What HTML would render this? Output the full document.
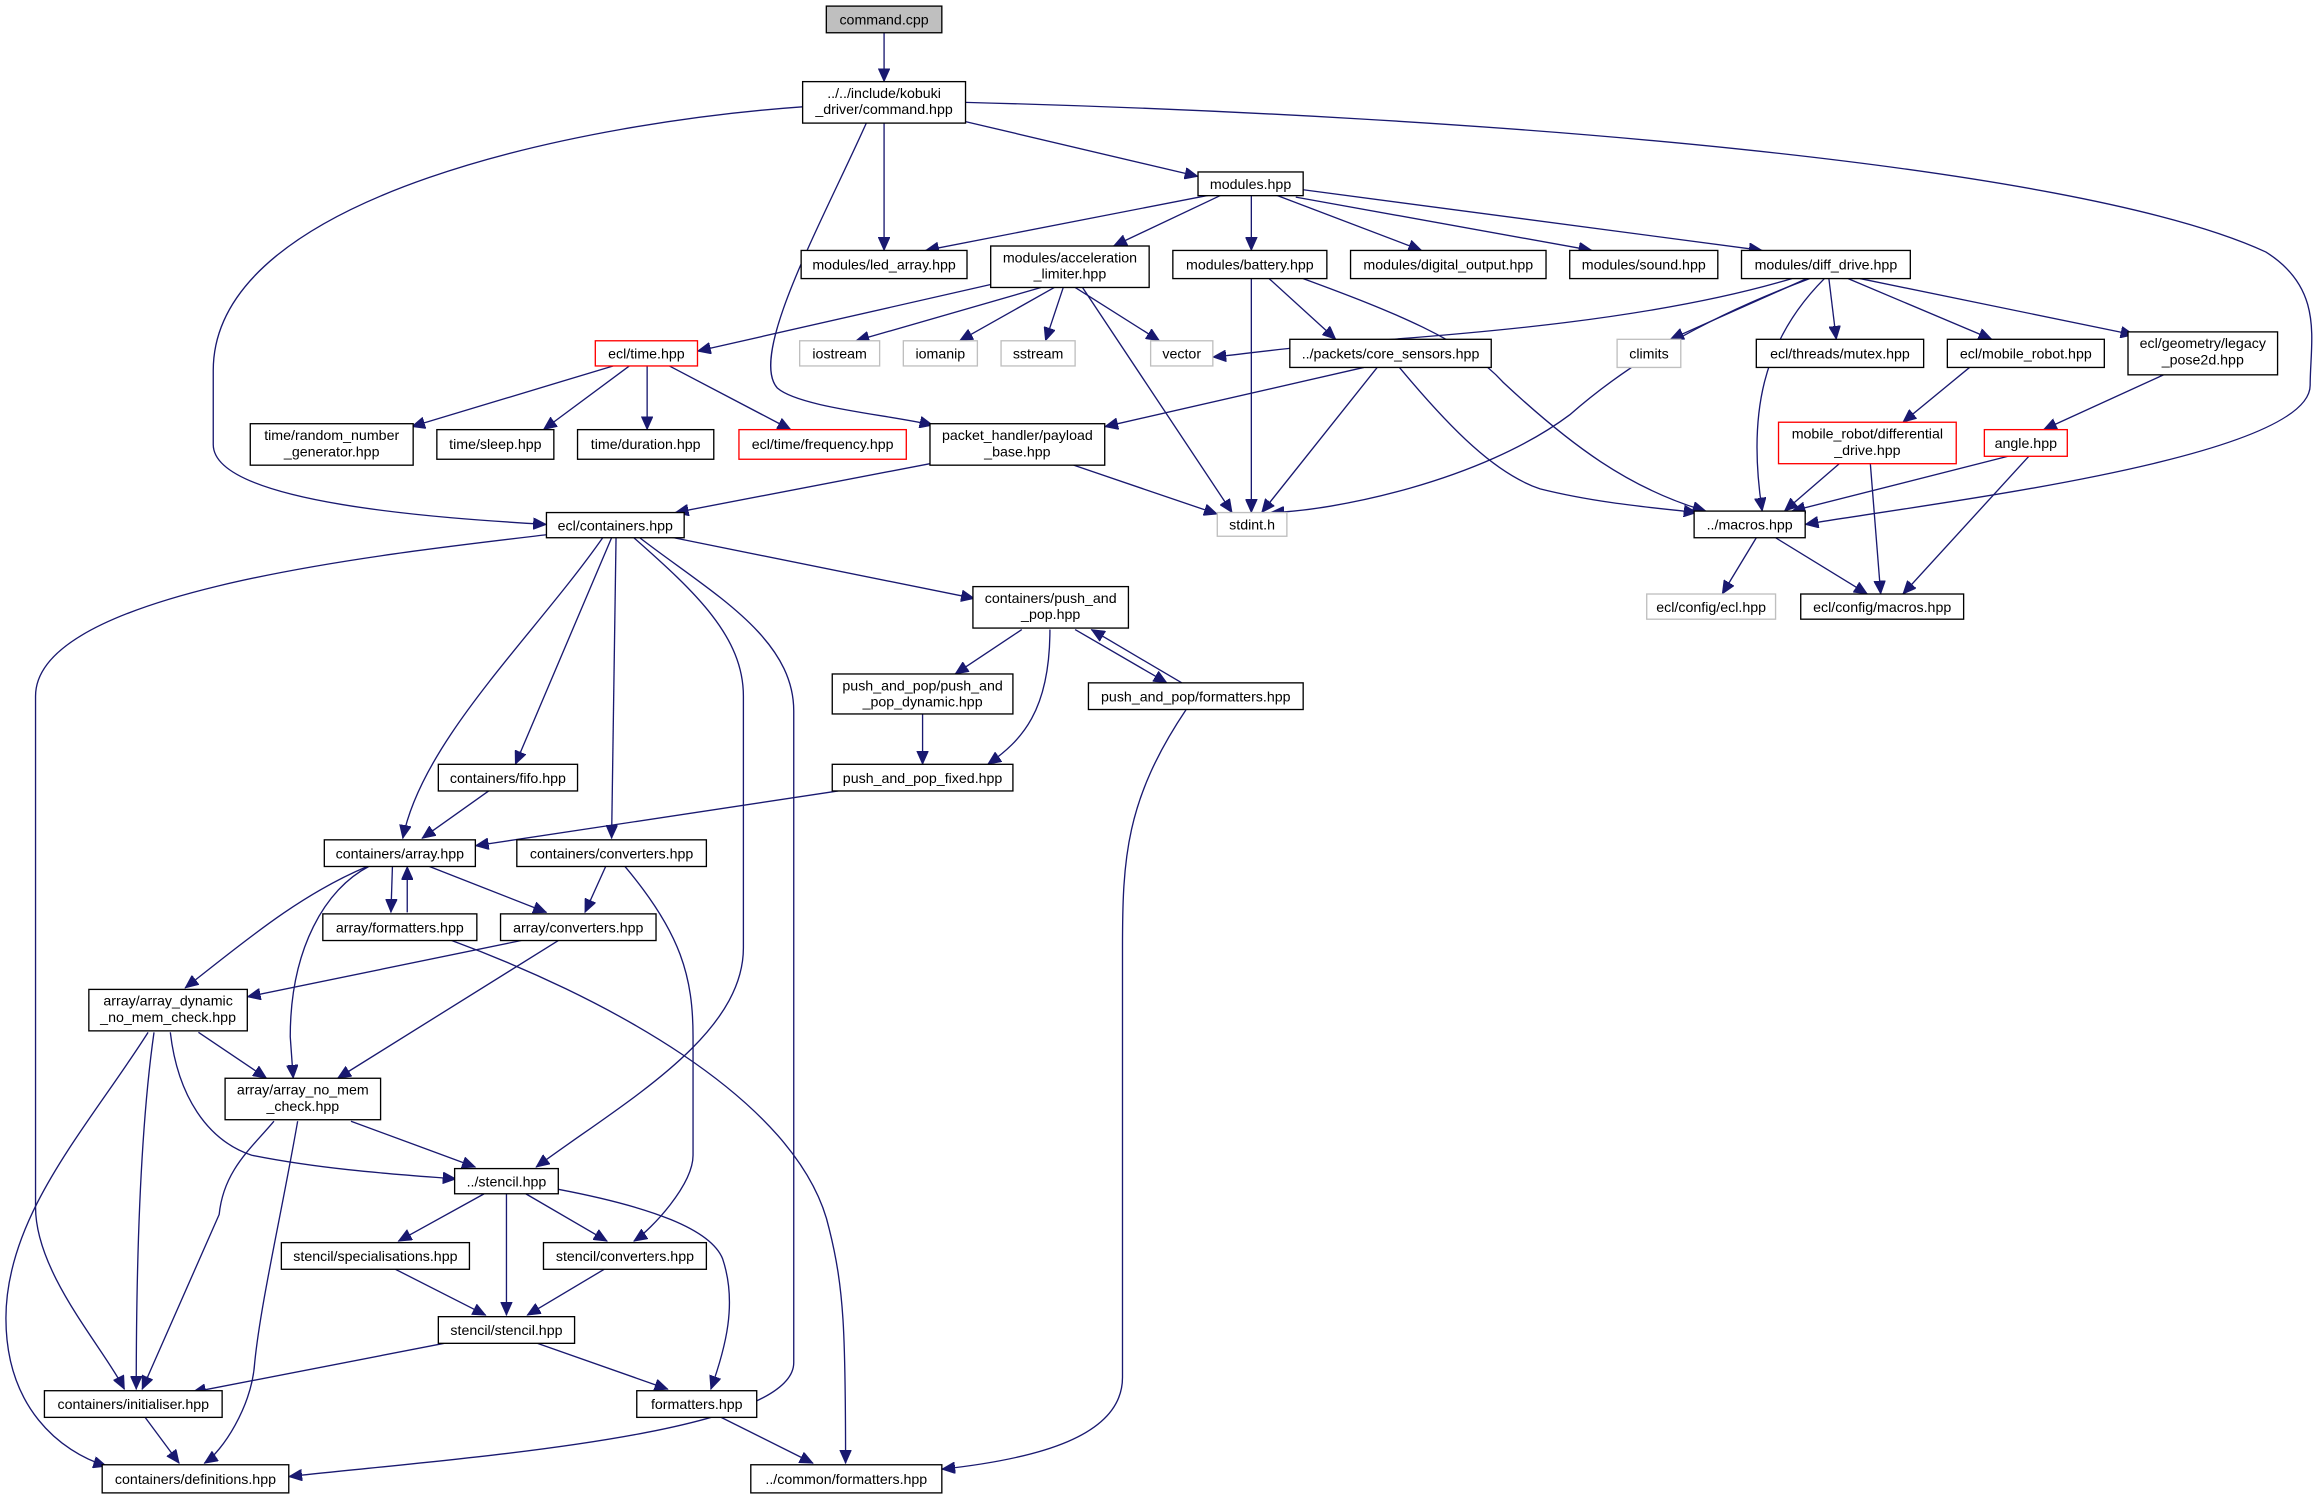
<!DOCTYPE html>
<html><head><meta charset="utf-8"><style>
html,body{margin:0;padding:0;background:#fff;}
svg{display:block;}
text{font-family:"Liberation Sans","DejaVu Sans",sans-serif;font-size:9.6px;fill:#000;text-anchor:middle;}
.e{fill:none;stroke:#191970;stroke-width:0.9;marker-end:url(#a);}
.b{fill:#fff;stroke:#000;stroke-width:0.9;}
.g{fill:#fff;stroke:#bfbfbf;stroke-width:0.9;}
.r{fill:#fff;stroke:#ff0000;stroke-width:0.9;}
</style></head><body>
<svg width="2322" height="1499" viewBox="0 0 1568 1012" xmlns="http://www.w3.org/2000/svg">
<defs><marker id="a" markerUnits="userSpaceOnUse" markerWidth="10" markerHeight="8" refX="9" refY="4" orient="auto"><path d="M0,0 L9,4 L0,8 z" fill="#191970" stroke="#191970" stroke-width="0.5"/></marker></defs>

<!-- edges -->
<path class="e" d="M597,22 L597,55"/>
<path class="e" d="M597,83 L597,169"/>
<path class="e" d="M652,82 L809,119"/>
<path class="e" d="M542,72 C400,82 144,130 144,250 L144,300 C144,340 300,350 369,354"/>
<path class="e" d="M585,83 C555,150 505,240 525,262 C540,275 600,280 630,287"/>
<path class="e" d="M652,69 C1000,78 1400,110 1530,170 C1570,195 1560,230 1560,260 C1560,310 1300,340 1219,354"/>
<path class="e" d="M820,131 L625,169"/>
<path class="e" d="M826,131 L752,166"/>
<path class="e" d="M845,131 L845,169"/>
<path class="e" d="M860,131 L960,169"/>
<path class="e" d="M875,133 L1075,169"/>
<path class="e" d="M880,128 L1190,169"/>
<path class="e" d="M669,192 L471,237"/>
<path class="e" d="M703,194 L578,230"/>
<path class="e" d="M712,194 L648,230"/>
<path class="e" d="M718,194 L706,230"/>
<path class="e" d="M726,194 L783,230"/>
<path class="e" d="M731,194 L832,346"/>
<path class="e" d="M845,188 L845,346"/>
<path class="e" d="M857,188 L902,229"/>
<path class="e" d="M880,188 C940,210 990,230 1015,258 C1060,300 1100,330 1152,345"/>
<path class="e" d="M1210,188 C1120,215 1000,225 900,232 C860,236 830,240 819,241"/>
<path class="e" d="M1222,188 C1150,215 1100,245 1060,280 C1000,325 900,345 858,346"/>
<path class="e" d="M1220,188 L1128,229"/>
<path class="e" d="M1235,188 L1240,229"/>
<path class="e" d="M1248,188 L1345,229"/>
<path class="e" d="M1256,188 L1441,226"/>
<path class="e" d="M1232,188 C1190,230 1180,280 1190,345"/>
<path class="e" d="M921,248 L746,288"/>
<path class="e" d="M930,248 L852,346"/>
<path class="e" d="M945,248 C980,290 1010,320 1040,330 C1080,340 1120,343 1146,346"/>
<path class="e" d="M414,247 L278,288"/>
<path class="e" d="M425,247 L367,290"/>
<path class="e" d="M437,247 L437,290"/>
<path class="e" d="M452,247 L534,290"/>
<path class="e" d="M628,313 L456,346"/>
<path class="e" d="M725,314 L822,347"/>
<path class="e" d="M1330,248 L1285,285"/>
<path class="e" d="M1461,253 L1380,290"/>
<path class="e" d="M1242,313 L1205,345"/>
<path class="e" d="M1263,313 L1270,401"/>
<path class="e" d="M1356,308 L1210,345"/>
<path class="e" d="M1370,308 L1285,401"/>
<path class="e" d="M1186,363 L1163,401"/>
<path class="e" d="M1199,363 L1261,401"/>

<path class="e" d="M450,362 L658,404"/>
<path class="e" d="M369,361 C250,375 24,400 24,470 L24,815 C24,860 70,910 84,938"/>
<path class="e" d="M407,363 C360,430 285,500 272,566"/>
<path class="e" d="M413,363 L348,516"/>
<path class="e" d="M416,363 L413,566"/>
<path class="e" d="M428,363 C470,400 502,430 502,470 L502,640 C502,700 420,745 362,788"/>
<path class="e" d="M432,363 C480,400 536,430 536,480 L536,920 C536,970 300,985 195,997"/>
<path class="e" d="M690,425 L645,455"/>
<path class="e" d="M709,425 C709,480 690,500 667,516"/>
<path class="e" d="M726,425 L788,461"/>
<path class="e" d="M798,461 L737,425"/>
<path class="e" d="M801,479 C760,540 758,580 758,640 L758,930 C758,970 700,985 636,992"/>
<path class="e" d="M623,482 L623,516"/>
<path class="e" d="M566,534 L321,571"/>
<path class="e" d="M330,534 L285,566"/>
<path class="e" d="M265,585 L264,616"/>
<path class="e" d="M275,616 L275,585"/>
<path class="e" d="M290,585 L369,616"/>
<path class="e" d="M248,585 C200,605 160,640 125,667"/>
<path class="e" d="M249,585 C220,600 196,640 196,700 L198,728"/>
<path class="e" d="M409,585 L395,616"/>
<path class="e" d="M422,585 C460,630 468,660 468,700 L468,780 C468,800 440,830 428,838"/>
<path class="e" d="M352,635 L167,673"/>
<path class="e" d="M377,635 L228,728"/>
<path class="e" d="M305,635 C400,670 540,740 560,830 C570,870 571,900 571,988"/>
<path class="e" d="M134,697 L180,728"/>
<path class="e" d="M104,697 C95,760 92,850 92,938"/>
<path class="e" d="M100,697 C60,760 4,820 4,890 C4,950 40,980 72,990"/>
<path class="e" d="M115,697 C120,740 140,770 170,780 C220,790 270,793 308,796"/>
<path class="e" d="M237,757 L321,788"/>
<path class="e" d="M185,757 C170,775 151,790 148,820 L96,938"/>
<path class="e" d="M201,757 C190,820 176,880 172,920 C170,950 150,980 138,988"/>
<path class="e" d="M327,806 L269,838"/>
<path class="e" d="M355,806 L410,838"/>
<path class="e" d="M342,806 L342,888"/>
<path class="e" d="M377,803 C440,815 480,830 488,850 C498,880 490,910 480,938"/>
<path class="e" d="M267,857 L328,888"/>
<path class="e" d="M408,857 L356,888"/>
<path class="e" d="M300,907 L130,940"/>
<path class="e" d="M363,907 L451,938"/>
<path class="e" d="M98,957 L121,988"/>
<path class="e" d="M487,957 L549,988"/>

<!-- nodes -->
<rect x="558" y="4" width="78" height="18" fill="#bfbfbf" stroke="#000" stroke-width="0.9"/><text x="597" y="16.5">command.cpp</text>
<rect class="b" x="542" y="55" width="110" height="28"/><text x="597" y="66">../../include/kobuki</text><text x="597" y="77">_driver/command.hpp</text>
<rect class="b" x="809" y="116" width="71" height="16"/><text x="844.5" y="127.5">modules.hpp</text>
<rect class="b" x="541" y="169" width="112" height="19"/><text x="597" y="182">modules/led_array.hpp</text>
<rect class="b" x="669" y="166" width="107" height="28"/><text x="722.5" y="177">modules/acceleration</text><text x="722.5" y="188">_limiter.hpp</text>
<rect class="b" x="792" y="169" width="104" height="19"/><text x="844" y="182">modules/battery.hpp</text>
<rect class="b" x="912" y="169" width="132" height="19"/><text x="978" y="182">modules/digital_output.hpp</text>
<rect class="b" x="1060" y="169" width="100" height="19"/><text x="1110" y="182">modules/sound.hpp</text>
<rect class="b" x="1176" y="169" width="114" height="19"/><text x="1233" y="182">modules/diff_drive.hpp</text>
<rect class="r" x="402" y="230" width="69" height="17"/><text x="436.5" y="242">ecl/time.hpp</text>
<rect class="g" x="540" y="230" width="54" height="17"/><text x="567" y="242">iostream</text>
<rect class="g" x="610" y="230" width="50" height="17"/><text x="635" y="242">iomanip</text>
<rect class="g" x="676" y="230" width="50" height="17"/><text x="701" y="242">sstream</text>
<rect class="g" x="777" y="230" width="42" height="17"/><text x="798" y="242">vector</text>
<rect class="b" x="871" y="229" width="136" height="19"/><text x="939" y="242">../packets/core_sensors.hpp</text>
<rect class="g" x="1092" y="229" width="43" height="19"/><text x="1113.5" y="242">climits</text>
<rect class="b" x="1186" y="229" width="113" height="19"/><text x="1242.5" y="242">ecl/threads/mutex.hpp</text>
<rect class="b" x="1315" y="229" width="106" height="19"/><text x="1368" y="242">ecl/mobile_robot.hpp</text>
<rect class="b" x="1437" y="224" width="101" height="29"/><text x="1487.5" y="235">ecl/geometry/legacy</text><text x="1487.5" y="246">_pose2d.hpp</text>
<rect class="b" x="169" y="286" width="110" height="28"/><text x="224" y="297">time/random_number</text><text x="224" y="308">_generator.hpp</text>
<rect class="b" x="295" y="290" width="79" height="20"/><text x="334.5" y="303">time/sleep.hpp</text>
<rect class="b" x="390" y="290" width="92" height="20"/><text x="436" y="303">time/duration.hpp</text>
<rect class="r" x="499" y="290" width="113" height="20"/><text x="555.5" y="303">ecl/time/frequency.hpp</text>
<rect class="b" x="628" y="286" width="118" height="28"/><text x="687" y="297">packet_handler/payload</text><text x="687" y="308">_base.hpp</text>
<rect class="r" x="1201" y="285" width="120" height="28"/><text x="1261" y="296">mobile_robot/differential</text><text x="1261" y="307">_drive.hpp</text>
<rect class="r" x="1340" y="290" width="56" height="18"/><text x="1368" y="302.5">angle.hpp</text>
<rect class="b" x="369" y="346" width="93" height="17"/><text x="415.5" y="358">ecl/containers.hpp</text>
<rect class="g" x="822" y="346" width="47" height="16"/><text x="845.5" y="357.5">stdint.h</text>
<rect class="b" x="1144" y="345" width="75" height="18"/><text x="1181.5" y="357.5">../macros.hpp</text>
<rect class="g" x="1112" y="401" width="87" height="17"/><text x="1155.5" y="413">ecl/config/ecl.hpp</text>
<rect class="b" x="1216" y="401" width="110" height="17"/><text x="1271" y="413">ecl/config/macros.hpp</text>
<rect class="b" x="657" y="396" width="105" height="28"/><text x="709.5" y="407">containers/push_and</text><text x="709.5" y="418">_pop.hpp</text>
<rect class="b" x="562" y="455" width="122" height="27"/><text x="623" y="466">push_and_pop/push_and</text><text x="623" y="477">_pop_dynamic.hpp</text>
<rect class="b" x="735" y="461" width="145" height="18"/><text x="807.5" y="473.5">push_and_pop/formatters.hpp</text>
<rect class="b" x="562" y="516" width="122" height="18"/><text x="623" y="528.5">push_and_pop_fixed.hpp</text>
<rect class="b" x="296" y="516" width="94" height="18"/><text x="343" y="528.5">containers/fifo.hpp</text>
<rect class="b" x="219" y="567" width="102" height="18"/><text x="270" y="579.5">containers/array.hpp</text>
<rect class="b" x="349" y="567" width="128" height="18"/><text x="413" y="579.5">containers/converters.hpp</text>
<rect class="b" x="218" y="617" width="104" height="18"/><text x="270" y="629.5">array/formatters.hpp</text>
<rect class="b" x="338" y="617" width="105" height="18"/><text x="390.5" y="629.5">array/converters.hpp</text>
<rect class="b" x="60" y="668" width="107" height="28"/><text x="113.5" y="679">array/array_dynamic</text><text x="113.5" y="690">_no_mem_check.hpp</text>
<rect class="b" x="152" y="728" width="105" height="28"/><text x="204.5" y="739">array/array_no_mem</text><text x="204.5" y="750">_check.hpp</text>
<rect class="b" x="307" y="789" width="70" height="17"/><text x="342" y="801">../stencil.hpp</text>
<rect class="b" x="190" y="839" width="127" height="18"/><text x="253.5" y="851.5">stencil/specialisations.hpp</text>
<rect class="b" x="367" y="839" width="110" height="18"/><text x="422" y="851.5">stencil/converters.hpp</text>
<rect class="b" x="296" y="889" width="92" height="18"/><text x="342" y="901.5">stencil/stencil.hpp</text>
<rect class="b" x="30" y="939" width="120" height="18"/><text x="90" y="951.5">containers/initialiser.hpp</text>
<rect class="b" x="430" y="939" width="81" height="18"/><text x="470.5" y="951.5">formatters.hpp</text>
<rect class="b" x="69" y="989" width="126" height="19"/><text x="132" y="1002">containers/definitions.hpp</text>
<rect class="b" x="507" y="989" width="129" height="19"/><text x="571.5" y="1002">../common/formatters.hpp</text>
</svg>
</body></html>
